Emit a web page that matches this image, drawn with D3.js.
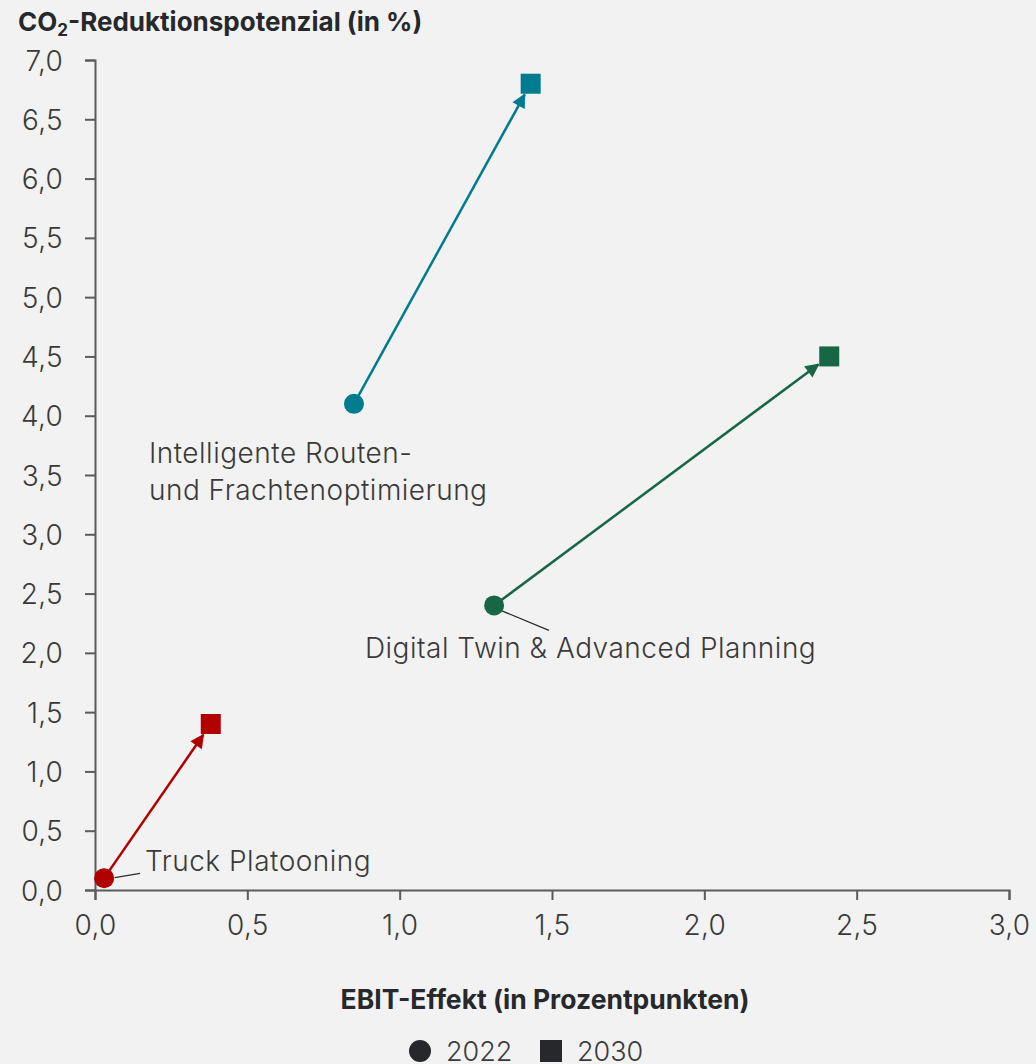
<html>
<head>
    <meta charset="utf-8"/>
    <title>CO2-Reduktionspotenzial vs. EBIT-Effekt</title>
    <script src="https://d3js.org/d3.v7.min.js"></script>
</head>
<style>
    body {
        margin: 0;
        background-color: #f2f2f2;
    }
    svg {
        display: block;
        font-family: Inter, "Noto Sans", sans-serif;
    }
</style>
<body>
<svg class="main" width="1036" height="1064"></svg>
</body>

<script>
    // data
    var measures = ["Intelligente Routen- und Frachtenoptimierung", "Digital Twin & Advanced Planning", "Truck Platooning"]
    var colors = ["#007b8f", "#176646", "#b00000"]
    var ebit2022 = [0.85, 1.31, 0.03]
    var co22022 = [4.1, 2.4, 0.1]
    var ebit2030 = [1.43, 2.41, 0.38]
    var co22030 = [6.8, 4.5, 1.4]

    var xTicks = [0, 0.5, 1, 1.5, 2, 2.5, 3]
    var yTicks = [0, 0.5, 1, 1.5, 2, 2.5, 3, 3.5, 4, 4.5, 5, 5.5, 6, 6.5, 7]

    // label lines (text) and where they sit, in data units
    var labelLines = [["Intelligente Routen-", "und Frachtenoptimierung"], ["Digital Twin & Advanced Planning"], ["Truck Platooning"]]
    var labelPos = [[0.177, 3.6], [0.886, 1.96], [0.164, 0.16]]
    var leaders = [null, [[1.33, 2.36], [1.49, 2.19]], [[0.065, 0.105], [0.148, 0.14]]]

    var svg = d3.select("svg.main")
    var fmt = function (d) { return d3.format(".1f")(d).replace(".", ",") }

    var x = d3.scaleLinear().domain([0, 3]).range([95, 1009])
    var y = d3.scaleLinear().domain([0, 7]).range([890, 60])

    var xAxis = svg.append("g")
        .attr("transform", "translate(0," + y(0) + ")")
        .call(d3.axisBottom(x).tickValues(xTicks).tickFormat(fmt).tickSize(10).tickPadding(15))
    var yAxis = svg.append("g")
        .attr("transform", "translate(" + x(0) + ",0)")
        .call(d3.axisLeft(y).tickValues(yTicks).tickFormat(fmt).tickSize(10).tickPadding(22))

    ;[xAxis, yAxis].forEach(function (g) {
        g.select(".domain").attr("stroke", "#5a5b5b").attr("stroke-width", 2)
        g.selectAll(".tick line").attr("stroke", "#5a5b5b").attr("stroke-width", 2)
        g.selectAll(".tick text")
            .attr("fill", "#3a3a3a")
            .style("font-size", "28px")
            .style("font-weight", 300)
            .style("letter-spacing", "0.3px")
            .style("font-family", "Inter, sans-serif")
    })
    yAxis.selectAll(".tick text").attr("dy", "0.36em")
    xAxis.selectAll(".tick text").attr("dy", "0.71em")

    // titles
    var title = svg.append("text")
        .attr("x", 18).attr("y", 31)
        .attr("fill", "#26282b")
        .style("font-size", "26px").style("font-weight", 700)
    title.append("tspan").text("CO")
    title.append("tspan").text("2").attr("dy", 5).style("font-size", "17px")
    title.append("tspan").text("-Reduktionspotenzial (in %)").attr("dy", -5)

    svg.append("text")
        .attr("x", 545).attr("y", 1009)
        .attr("text-anchor", "middle")
        .attr("fill", "#26282b")
        .style("font-size", "26.5px").style("font-weight", 700)
        .text("EBIT-Effekt (in Prozentpunkten)")

    // arrow markers, one per colour
    var defs = svg.append("defs")
    colors.forEach(function (c, i) {
        defs.append("marker")
            .attr("id", "arrow" + i)
            .attr("markerUnits", "userSpaceOnUse")
            .attr("viewBox", "0 0 10 10")
            .attr("refX", 9).attr("refY", 5)
            .attr("markerWidth", 16).attr("markerHeight", 14)
            .attr("orient", "auto")
            .append("path")
            .attr("d", "M0,0 L10,5 L0,10 z")
            .attr("fill", c)
    })

    var half = 10
    var rows = measures.map(function (m, i) {
        return {
            name: m, color: colors[i],
            x0: x(ebit2022[i]), y0: y(co22022[i]),
            x1: x(ebit2030[i]), y1: y(co22030[i])
        }
    })

    // arrows, stopping at the square's edge
    function endPoint(d) {
        var dx = d.x1 - d.x0, dy = d.y1 - d.y0, len = Math.sqrt(dx * dx + dy * dy)
        var t = half / Math.max(Math.abs(dx / len), Math.abs(dy / len)) + 1
        return [d.x1 - dx / len * t, d.y1 - dy / len * t]
    }
    svg.selectAll("line.arrow")
        .data(rows)
        .enter()
        .append("line")
        .attr("class", "arrow")
        .attr("x1", function (d) { return d.x0 })
        .attr("y1", function (d) { return d.y0 })
        .attr("x2", function (d) { return endPoint(d)[0] })
        .attr("y2", function (d) { return endPoint(d)[1] })
        .attr("stroke", function (d) { return d.color })
        .attr("stroke-width", 2.5)
        .attr("marker-end", function (d, i) { return "url(#arrow" + i + ")" })

    // leader lines
    leaders.forEach(function (l) {
        if (!l) return
        svg.append("line")
            .attr("x1", x(l[0][0])).attr("y1", y(l[0][1]))
            .attr("x2", x(l[1][0])).attr("y2", y(l[1][1]))
            .attr("stroke", "#2b2b2b").attr("stroke-width", 1.3)
    })

    svg.selectAll("circle.p2022")
        .data(rows)
        .enter()
        .append("circle")
        .attr("class", "p2022")
        .attr("cx", function (d) { return d.x0 })
        .attr("cy", function (d) { return d.y0 })
        .attr("r", 10)
        .attr("fill", function (d) { return d.color })

    svg.selectAll("rect.p2030")
        .data(rows)
        .enter()
        .append("rect")
        .attr("class", "p2030")
        .attr("x", function (d) { return d.x1 - half })
        .attr("y", function (d) { return d.y1 - half })
        .attr("width", half * 2)
        .attr("height", half * 2)
        .attr("fill", function (d) { return d.color })

    // point labels
    labelLines.forEach(function (lines, i) {
        var t = svg.append("text")
            .attr("x", x(labelPos[i][0])).attr("y", y(labelPos[i][1]))
            .attr("fill", "#3a3a3a")
            .style("font-size", "28px").style("font-weight", 300)
            .style("letter-spacing", "0.5px")
        lines.forEach(function (s, j) {
            t.append("tspan").attr("x", x(labelPos[i][0])).attr("dy", j ? 37 : 0).text(s)
        })
    })

    // legend
    var legend = svg.append("g").attr("transform", "translate(0,1051)")
    legend.append("circle").attr("cx", 420).attr("cy", 0).attr("r", 11).attr("fill", "#26282b")
    legend.append("text").attr("x", 446).attr("y", 10).text("2022")
        .attr("fill", "#3a3a3a").style("font-size", "27px").style("font-weight", 300)
    legend.append("rect").attr("x", 540).attr("y", -11).attr("width", 22).attr("height", 22).attr("fill", "#26282b")
    legend.append("text").attr("x", 577).attr("y", 10).text("2030")
        .attr("fill", "#3a3a3a").style("font-size", "27px").style("font-weight", 300)
</script>

</html>
